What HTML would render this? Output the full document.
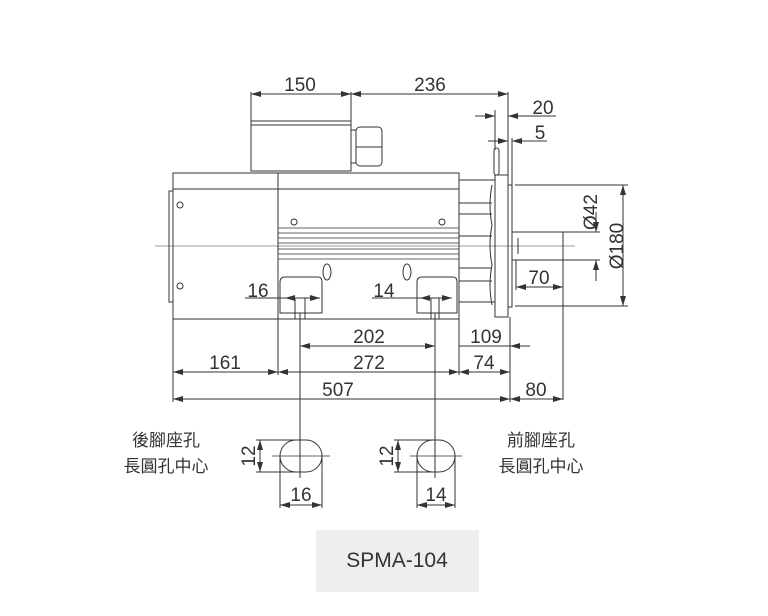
<!DOCTYPE html>
<html><head><meta charset="utf-8"><style>
body{margin:0;background:#fff;width:768px;height:611px;overflow:hidden}
svg text{font-family:"Liberation Sans","Noto Sans CJK TC",sans-serif;fill:#333}
</style></head><body>
<svg width="768" height="611" viewBox="0 0 768 611" xmlns="http://www.w3.org/2000/svg">
<defs>
<marker id="a" viewBox="0 0 10 6" refX="10" refY="3" markerWidth="10" markerHeight="6" orient="auto-start-reverse" markerUnits="userSpaceOnUse"><path d="M0,0L10,3L0,6z" fill="#333"/></marker>
</defs>
<g stroke="#333" fill="none" stroke-width="1">
<rect x="251" y="121" width="100" height="50"/>
<line x1="251" y1="125" x2="351" y2="125"/>
<rect x="351" y="130" width="5" height="33"/>
<rect x="356" y="127" width="26" height="39" rx="4"/>
<line x1="356" y1="147" x2="382" y2="147"/>
<rect x="173" y="173" width="286" height="146"/>
<line x1="278" y1="173" x2="278" y2="319"/>
<line x1="173" y1="189" x2="459" y2="189"/>
<rect x="169" y="191" width="4" height="111"/>
<g stroke-width="0.8">
<line x1="278" y1="228" x2="459" y2="228"/><line x1="278" y1="233" x2="459" y2="233"/>
<line x1="278" y1="238" x2="459" y2="238"/><line x1="278" y1="243" x2="459" y2="243"/>
<line x1="278" y1="249" x2="459" y2="249"/><line x1="278" y1="254" x2="459" y2="254"/>
<line x1="278" y1="259" x2="459" y2="259"/>
</g>
<circle cx="180" cy="205" r="3"/><circle cx="180" cy="286" r="3"/>
<circle cx="294" cy="222" r="3"/><circle cx="442" cy="222" r="3"/>
<ellipse cx="327" cy="272" rx="4" ry="8"/><ellipse cx="407" cy="272" rx="4" ry="8"/>
<path d="M280,282 q0,-5 5,-5 h33 q4,0 4,5 v31 h-42z"/>
<path d="M417,282 q0,-5 5,-5 h31 q4,0 4,5 v31 h-40z"/>
<path d="M459,180 h36 M459,203 h33 M459,214 h33 M459,236 h33 M459,268 h33 M459,281 h33 M459,302 h36"/>
<path d="M492,185 q-4,20 0,40 q-4,20 0,40 q-4,20 0,40"/>
<rect x="495" y="175" width="13" height="142"/>
<rect x="508" y="185" width="4" height="122"/>
<rect x="494" y="148" width="5" height="27" rx="2.5"/>
<rect x="512" y="232" width="51" height="28"/>
<line x1="518" y1="238" x2="518" y2="254"/>
<line x1="155" y1="246" x2="575" y2="246" stroke-width="0.6"/>
<line x1="251" y1="92" x2="251" y2="121"/><line x1="351" y1="92" x2="351" y2="121"/>
<line x1="508" y1="92" x2="508" y2="175"/>
<line x1="251" y1="94" x2="351" y2="94" marker-start="url(#a)" marker-end="url(#a)"/>
<line x1="351" y1="94" x2="508" y2="94" marker-start="url(#a)" marker-end="url(#a)"/>
<line x1="495" y1="110" x2="495" y2="150"/><line x1="512" y1="138" x2="512" y2="185"/>
<line x1="475" y1="116" x2="495" y2="116" marker-end="url(#a)"/>
<line x1="508" y1="116" x2="556" y2="116" marker-start="url(#a)"/>
<line x1="488" y1="141" x2="508" y2="141" marker-end="url(#a)"/>
<line x1="512" y1="141" x2="547" y2="141" marker-start="url(#a)"/>
<line x1="515" y1="185" x2="628" y2="185"/><line x1="515" y1="306" x2="628" y2="306"/>
<line x1="623" y1="185" x2="623" y2="306" marker-start="url(#a)" marker-end="url(#a)"/>
<line x1="563" y1="232" x2="600" y2="232"/><line x1="563" y1="260" x2="600" y2="260"/>
<line x1="596" y1="212" x2="596" y2="232" marker-end="url(#a)"/>
<line x1="596" y1="260" x2="596" y2="281" marker-start="url(#a)"/>
<line x1="516" y1="260" x2="516" y2="290"/>
<line x1="563" y1="260" x2="563" y2="400"/>
<line x1="516" y1="287" x2="563" y2="287" marker-start="url(#a)" marker-end="url(#a)"/>
<line x1="173" y1="319" x2="173" y2="402"/><line x1="278" y1="319" x2="278" y2="375"/>
<line x1="459" y1="319" x2="459" y2="375"/><line x1="510" y1="317" x2="510" y2="402"/>
<line x1="300" y1="313" x2="300" y2="478"/><line x1="435" y1="313" x2="435" y2="478"/>
<line x1="295" y1="298" x2="295" y2="319"/><line x1="305" y1="298" x2="305" y2="319"/>
<line x1="431" y1="298" x2="431" y2="319"/><line x1="439" y1="298" x2="439" y2="319"/>
<line x1="245" y1="298" x2="285" y2="298"/><line x1="285" y1="298" x2="320" y2="298" marker-start="url(#a)" marker-end="url(#a)"/>
<line x1="372" y1="298" x2="420" y2="298"/><line x1="420" y1="298" x2="452" y2="298" marker-start="url(#a)" marker-end="url(#a)"/>
<line x1="300" y1="346" x2="435" y2="346" marker-start="url(#a)" marker-end="url(#a)"/>
<line x1="459" y1="346" x2="530" y2="346"/>
<line x1="510" y1="346" x2="530" y2="346" marker-start="url(#a)"/>
<line x1="173" y1="372" x2="278" y2="372" marker-start="url(#a)" marker-end="url(#a)"/>
<line x1="278" y1="372" x2="459" y2="372" marker-start="url(#a)" marker-end="url(#a)"/>
<line x1="459" y1="372" x2="510" y2="372" marker-start="url(#a)" marker-end="url(#a)"/>
<line x1="173" y1="399" x2="510" y2="399" marker-start="url(#a)" marker-end="url(#a)"/>
<line x1="510" y1="399" x2="563" y2="399" marker-start="url(#a)" marker-end="url(#a)"/>
<rect x="280" y="440" width="42" height="32" rx="16"/>
<rect x="417" y="440" width="38" height="32" rx="16"/>
<line x1="272" y1="456" x2="330" y2="456" stroke-width="0.7"/>
<line x1="410" y1="456" x2="462" y2="456" stroke-width="0.7"/>
<line x1="256" y1="440" x2="300" y2="440"/><line x1="256" y1="472" x2="300" y2="472"/>
<line x1="260" y1="440" x2="260" y2="472" marker-start="url(#a)" marker-end="url(#a)"/>
<line x1="394" y1="440" x2="435" y2="440"/><line x1="394" y1="472" x2="435" y2="472"/>
<line x1="398" y1="440" x2="398" y2="472" marker-start="url(#a)" marker-end="url(#a)"/>
<line x1="280" y1="456" x2="280" y2="508"/><line x1="322" y1="456" x2="322" y2="508"/>
<line x1="417" y1="456" x2="417" y2="508"/><line x1="455" y1="456" x2="455" y2="508"/>
<line x1="280" y1="505" x2="322" y2="505" marker-start="url(#a)" marker-end="url(#a)"/>
<line x1="417" y1="505" x2="455" y2="505" marker-start="url(#a)" marker-end="url(#a)"/>
</g>
<g font-size="19" text-anchor="middle">
<text x="300" y="91">150</text><text x="430" y="91">236</text>
<text x="543" y="114">20</text><text x="540" y="139">5</text>
<text x="258" y="297">16</text><text x="384" y="297">14</text>
<text x="369" y="343">202</text><text x="486" y="343">109</text>
<text x="225" y="369">161</text><text x="369" y="369">272</text><text x="484" y="369">74</text>
<text x="338" y="396">507</text><text x="536" y="396">80</text>
<text x="539" y="284">70</text>
<text x="301" y="501">16</text><text x="436" y="501">14</text>
<text transform="translate(597,212) rotate(-90)">Ø42</text>
<text transform="translate(623,246) rotate(-90)">Ø180</text>
<text transform="translate(255,456) rotate(-90)">12</text>
<text transform="translate(393,456) rotate(-90)">12</text>
</g>
<g font-size="17" text-anchor="middle">
<text x="166" y="446">後腳座孔</text><text x="166" y="472">長圓孔中心</text>
<text x="541" y="446">前腳座孔</text><text x="541" y="472">長圓孔中心</text>
</g>
<rect x="316" y="530" width="163" height="62" fill="#eeeeee"/>
<text x="397" y="567" font-size="21" text-anchor="middle">SPMA-104</text>
</svg>
</body></html>
